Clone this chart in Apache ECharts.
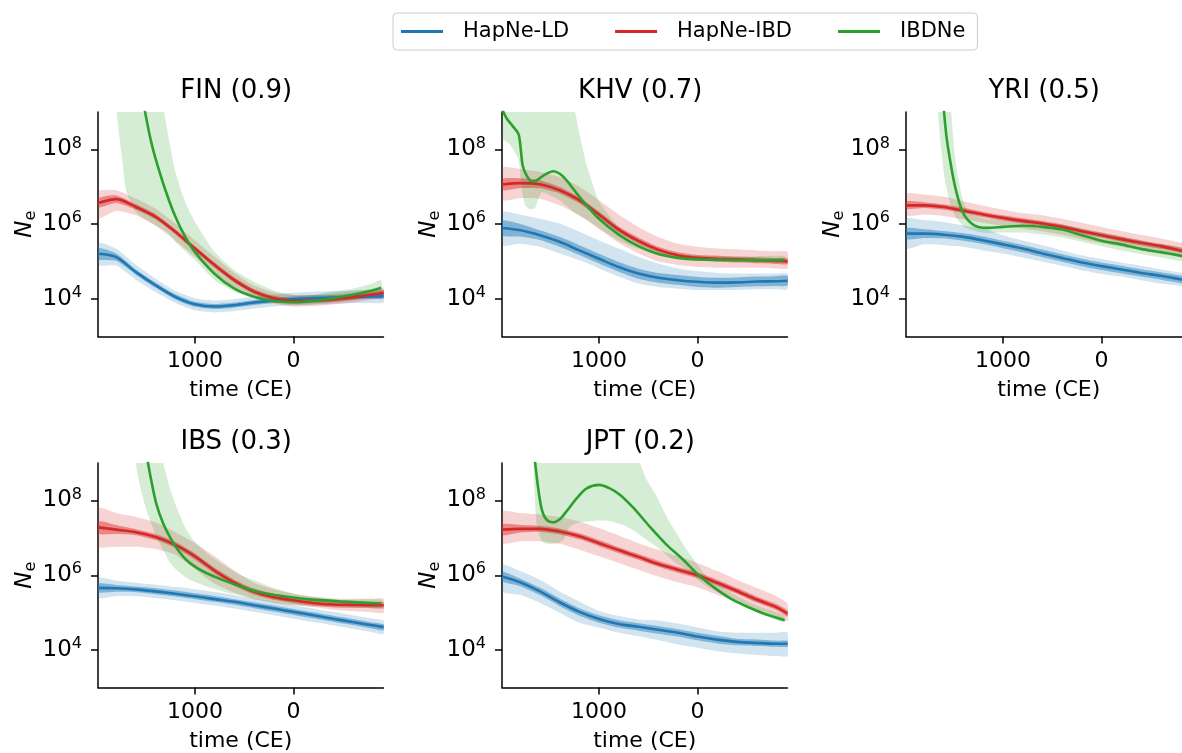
<!DOCTYPE html>
<html>
<head>
<meta charset="utf-8">
<title>Ne trajectories</title>
<script src="https://cdn.jsdelivr.net/npm/echarts@6/dist/echarts.min.js"></script>
<style>
  html, body { margin: 0; padding: 0; background: #ffffff; }
  #chart { width: 1182px; height: 753px; }
</style>
</head>
<body>
<div id="chart"></div>
<script>
// ---- time grid (years CE) shared by the HapNe estimates ----
const years = [1985, 1800, 1600, 1400, 1200, 1000, 800, 600, 400, 200, 0, -200, -400, -600, -800, -914];
const xTicks = [1000, 0];
const yTicks = [1e4, 1e6, 1e8];

// ---- FIN ----
const finLd   = [1.62e5, 1.32e5, 5.25e4, 2.34e4, 1.15e4, 7.24e3, 6.31e3, 6.92e3, 8.13e3, 9.12e3, 1.0e4, 1.07e4, 1.1e4, 1.15e4, 1.17e4, 1.2e4];
const finLdLo = [8.1e4, 7.9e4, 3.3e4, 1.55e4, 7.9e3, 5.0e3, 4.4e3, 4.8e3, 5.6e3, 6.3e3, 6.8e3, 7.2e3, 7.4e3, 7.8e3, 7.9e3, 8.1e3];
const finLdHi = [3.2e5, 2.2e5, 8.3e4, 3.5e4, 1.66e4, 1.05e4, 9.1e3, 1.0e4, 1.17e4, 1.32e4, 1.48e4, 1.58e4, 1.62e4, 1.7e4, 1.74e4, 1.78e4];
const finLdQ1 = [1.15e5, 1.05e5, 4.5e4, 2.0e4, 9.8e3, 6.2e3, 5.4e3, 5.9e3, 6.9e3, 7.8e3, 8.5e3, 9.1e3, 9.3e3, 9.8e3, 1.0e4, 1.02e4];
const finLdQ3 = [2.3e5, 1.66e5, 6.2e4, 2.75e4, 1.35e4, 8.5e3, 7.4e3, 8.1e3, 9.5e3, 1.07e4, 1.17e4, 1.26e4, 1.29e4, 1.35e4, 1.38e4, 1.41e4];
const finIbd   = [3.7e6, 4.7e6, 2.9e6, 1.58e6, 6.3e5, 2.24e5, 8.1e4, 3.2e4, 1.58e4, 1.05e4, 8.9e3, 9.1e3, 9.8e3, 1.12e4, 1.32e4, 1.48e4];
const finIbdLo = [1.41e6, 2.3e6, 1.74e6, 9.1e5, 3.7e5, 1.35e5, 4.8e4, 2.0e4, 1.1e4, 7.6e3, 6.3e3, 6.5e3, 7.2e3, 8.1e3, 9.8e3, 1.1e4];
const finIbdHi = [7.6e6, 8.1e6, 4.8e6, 2.6e6, 1.05e6, 3.7e5, 1.35e5, 5.0e4, 2.3e4, 1.51e4, 1.29e4, 1.29e4, 1.41e4, 1.62e4, 1.86e4, 2.0e4];
const finIbdQ1 = [2.8e6, 3.7e6, 2.45e6, 1.35e6, 5.4e5, 1.9e5, 6.9e4, 2.75e4, 1.35e4, 8.9e3, 7.6e3, 7.8e3, 8.3e3, 9.5e3, 1.12e4, 1.26e4];
const finIbdQ3 = [4.9e6, 5.9e6, 3.4e6, 1.86e6, 7.4e5, 2.6e5, 9.5e4, 3.8e4, 1.86e4, 1.23e4, 1.05e4, 1.07e4, 1.15e4, 1.32e4, 1.55e4, 1.74e4];
const finNeYears = [1510, 1480, 1450, 1400, 1300, 1200, 1100, 1000, 800, 600, 400, 200, 0, -200, -400, -600, -800, -890];
const finNe      = [1.1e9, 4.3e8, 1.8e8, 5.6e7, 8.1e6, 1.6e6, 4.6e5, 1.8e5, 4.7e4, 1.9e4, 1.15e4, 8.9e3, 8.2e3, 8.9e3, 1.05e4, 1.3e4, 1.7e4, 2.0e4];
const finNeBandYears = [1795, 1740, 1700, 1600, 1400, 1315, 1260, 1200, 1100, 1000, 800, 600, 400, 200, 0, -200, -400, -600, -800, -890];
const finNeLo = [1.0e9, 5.6e7, 8.1e6, 2.1e6, 9.3e5, 6.9e5, 5.3e5, 3.4e5, 1.9e5, 1.1e5, 3.2e4, 1.6e4, 1.05e4, 7.9e3, 6.9e3, 7.2e3, 8.1e3, 9.3e3, 1.2e4, 1.4e4];
const finNeHi = [1e10, 1e10, 1e10, 1e10, 1e10, 1.0e9, 1.6e8, 2.5e7, 4.0e6, 1.15e6, 1.8e5, 5.9e4, 2.9e4, 1.7e4, 1.3e4, 1.3e4, 1.6e4, 1.9e4, 2.6e4, 3.2e4];

// ---- KHV ----
const khvLd   = [7.9e5, 6.9e5, 5.1e5, 3.4e5, 2.0e5, 1.2e5, 7.2e4, 4.8e4, 3.7e4, 3.2e4, 2.9e4, 2.75e4, 2.8e4, 2.95e4, 3.0e4, 3.1e4];
const khvLdLo = [2.75e5, 3.0e5, 2.5e5, 1.66e5, 1.1e5, 6.6e4, 4.0e4, 2.6e4, 2.1e4, 1.9e4, 1.74e4, 1.74e4, 1.74e4, 1.82e4, 1.82e4, 1.82e4];
const khvLdHi = [2.1e6, 1.8e6, 1.41e6, 1.05e6, 6.3e5, 3.7e5, 2.24e5, 1.35e5, 8.9e4, 6.6e4, 5.6e4, 5.0e4, 4.8e4, 4.8e4, 4.8e4, 4.8e4];
const khvLdQ1 = [5.0e5, 4.7e5, 3.8e5, 2.5e5, 1.5e5, 8.9e4, 5.4e4, 3.5e4, 2.75e4, 2.4e4, 2.1e4, 2.0e4, 2.1e4, 2.2e4, 2.24e4, 2.3e4];
const khvLdQ3 = [1.26e6, 1.02e6, 6.9e5, 4.6e5, 2.75e5, 1.62e5, 9.8e4, 6.5e4, 5.0e4, 4.4e4, 3.9e4, 3.7e4, 3.8e4, 4.0e4, 4.1e4, 4.2e4];
const khvIbd   = [1.15e7, 1.26e7, 1.17e7, 8.1e6, 4.4e6, 1.82e6, 7.2e5, 3.6e5, 2.1e5, 1.48e5, 1.26e5, 1.2e5, 1.15e5, 1.1e5, 1.05e5, 1.02e5];
const khvIbdLo = [4.4e6, 5.0e6, 4.8e6, 3.2e6, 1.74e6, 7.6e5, 3.2e5, 1.66e5, 1.02e5, 8.1e4, 7.2e4, 6.9e4, 6.9e4, 6.9e4, 6.6e4, 6.6e4];
const khvIbdHi = [3.2e7, 3.0e7, 2.5e7, 1.82e7, 1.0e7, 4.4e6, 1.82e6, 8.5e5, 4.6e5, 3.0e5, 2.5e5, 2.24e5, 2.14e5, 2.0e5, 1.9e5, 1.82e5];
const khvIbdQ1 = [8.1e6, 9.3e6, 9.1e6, 6.6e6, 3.6e6, 1.51e6, 6.0e5, 3.0e5, 1.74e5, 1.23e5, 1.05e5, 1.0e5, 9.5e4, 9.1e4, 8.7e4, 8.5e4];
const khvIbdQ3 = [1.62e7, 1.7e7, 1.51e7, 1.0e7, 5.2e6, 2.2e6, 8.7e5, 4.4e5, 2.5e5, 1.78e5, 1.51e5, 1.45e5, 1.38e5, 1.32e5, 1.26e5, 1.23e5];
const khvNeYears = [1985, 1935, 1870, 1818, 1795, 1775, 1735, 1680, 1630, 1565, 1465, 1395, 1330, 1225, 1125, 1000, 800, 600, 400, 200, 0, -400, -885];
const khvNe      = [1.2e9, 6.6e8, 4.0e8, 2.6e8, 1.05e8, 3.7e7, 2.0e7, 1.4e7, 1.5e7, 2.0e7, 2.6e7, 2.2e7, 1.5e7, 6.6e6, 3.2e6, 1.4e6, 5.3e5, 2.6e5, 1.6e5, 1.26e5, 1.15e5, 1.1e5, 1.1e5];
const khvNeBandYears = [1985, 1900, 1820, 1785, 1750, 1700, 1650, 1615, 1580, 1495, 1400, 1245, 1195, 1125, 1055, 1000, 800, 600, 400, 200, 0, -400, -885];
const khvNeLo = [2.1e8, 1.3e8, 5.6e7, 8.9e6, 3.2e6, 2.5e6, 2.7e6, 4.8e6, 7.2e6, 5.9e6, 4.4e6, 2.0e6, 1.7e6, 1.3e6, 9.8e5, 7.6e5, 3.7e5, 2.2e5, 1.55e5, 1.26e5, 1.1e5, 1.0e5, 9.3e4];
const khvNeHi = [1e10, 1e10, 1e10, 1e10, 1e10, 1e10, 1e10, 1e10, 1e10, 1e10, 1e10, 1.0e9, 2.3e8, 3.7e7, 1.0e7, 4.0e6, 8.5e5, 3.7e5, 2.0e5, 1.6e5, 1.45e5, 1.35e5, 1.4e5];

// ---- YRI ----
const yriLd   = [5.6e5, 5.6e5, 5.25e5, 4.6e5, 3.7e5, 2.9e5, 2.24e5, 1.66e5, 1.26e5, 9.5e4, 7.6e4, 6.2e4, 5.0e4, 4.2e4, 3.4e4, 3.0e4];
const yriLdLo = [2.24e5, 2.9e5, 2.75e5, 2.5e5, 2.0e5, 1.66e5, 1.29e5, 1.0e5, 7.8e4, 5.9e4, 4.7e4, 4.0e4, 3.2e4, 2.6e4, 2.24e4, 1.9e4];
const yriLdHi = [1.41e6, 1.29e6, 1.15e6, 9.3e5, 7.6e5, 5.1e5, 3.7e5, 2.75e5, 2.0e5, 1.48e5, 1.17e5, 9.5e4, 7.8e4, 6.3e4, 5.1e4, 4.6e4];
const yriLdQ1 = [4.0e5, 4.3e5, 4.2e5, 3.6e5, 2.95e5, 2.3e5, 1.78e5, 1.32e5, 1.0e5, 7.6e4, 6.0e4, 4.9e4, 4.0e4, 3.3e4, 2.7e4, 2.4e4];
const yriLdQ3 = [7.9e5, 7.4e5, 6.6e5, 5.75e5, 4.7e5, 3.6e5, 2.8e5, 2.1e5, 1.58e5, 1.2e5, 9.5e4, 7.8e4, 6.3e4, 5.25e4, 4.3e4, 3.8e4];
const yriIbd   = [3.2e6, 3.2e6, 2.9e6, 2.3e6, 1.82e6, 1.48e6, 1.23e6, 1.05e6, 8.5e5, 6.5e5, 5.1e5, 4.0e5, 3.2e5, 2.6e5, 2.0e5, 1.74e5];
const yriIbdLo = [1.74e6, 1.82e6, 1.66e6, 1.35e6, 1.1e6, 9.1e5, 7.6e5, 6.5e5, 5.25e5, 4.0e5, 3.1e5, 2.5e5, 2.0e5, 1.62e5, 1.32e5, 1.17e5];
const yriIbdHi = [6.6e6, 6.2e6, 5.4e6, 4.1e6, 3.1e6, 2.45e6, 2.0e6, 1.74e6, 1.41e6, 1.1e6, 8.5e5, 6.6e5, 5.25e5, 4.2e5, 3.2e5, 2.75e5];
const yriIbdQ1 = [2.6e6, 2.7e6, 2.45e6, 2.0e6, 1.55e6, 1.26e6, 1.05e6, 8.9e5, 7.2e5, 5.5e5, 4.4e5, 3.4e5, 2.7e5, 2.2e5, 1.74e5, 1.48e5];
const yriIbdQ3 = [4.1e6, 3.9e6, 3.4e6, 2.75e6, 2.14e6, 1.74e6, 1.45e6, 1.23e6, 1.0e6, 7.6e5, 6.0e5, 4.7e5, 3.7e5, 3.0e5, 2.4e5, 2.0e5];
const yriNeYears = [1600, 1575, 1540, 1490, 1440, 1390, 1320, 1250, 1150, 1000, 800, 600, 400, 200, 0, -200, -400, -600, -800, -890];
const yriNe      = [1.1e9, 2.3e8, 5.6e7, 1.1e7, 3.5e6, 1.7e6, 1.05e6, 8.5e5, 8.0e5, 8.5e5, 9.1e5, 8.5e5, 7.2e5, 5.1e5, 3.6e5, 2.9e5, 2.2e5, 1.8e5, 1.45e5, 1.3e5];
const yriNeBandYears = [1660, 1627, 1593, 1542, 1525, 1485, 1441, 1390, 1322, 1186, 1000, 800, 600, 400, 200, 0, -200, -400, -600, -800, -890];
const yriNeLo = [1.0e9, 1.05e8, 1.66e7, 4.0e6, 3.0e6, 1.6e6, 1.15e6, 8.5e5, 7.1e5, 5.9e5, 6.0e5, 6.0e5, 5.3e5, 4.4e5, 3.4e5, 2.6e5, 2.0e5, 1.6e5, 1.3e5, 1.05e5, 9.5e4];
const yriNeHi = [1e10, 1e10, 1e10, 1e10, 1.0e9, 5.6e7, 1.1e7, 3.2e6, 1.9e6, 1.4e6, 1.26e6, 1.26e6, 1.15e6, 9.8e5, 7.6e5, 5.9e5, 4.6e5, 3.7e5, 2.9e5, 2.4e5, 2.1e5];

// ---- IBS ----
const ibsLd   = [4.6e5, 4.5e5, 4.2e5, 3.7e5, 3.2e5, 2.75e5, 2.3e5, 1.95e5, 1.58e5, 1.29e5, 1.05e5, 8.5e4, 6.9e4, 5.6e4, 4.6e4, 4.1e4];
const ibsLdLo = [2.5e5, 2.8e5, 2.75e5, 2.45e5, 2.14e5, 1.82e5, 1.55e5, 1.29e5, 1.05e5, 8.5e4, 6.9e4, 5.6e4, 4.6e4, 3.7e4, 3.0e4, 2.7e4];
const ibsLdHi = [8.5e5, 7.1e5, 6.3e5, 5.6e5, 4.9e5, 4.2e5, 3.55e5, 2.95e5, 2.4e5, 1.95e5, 1.58e5, 1.29e5, 1.05e5, 8.5e4, 6.9e4, 6.2e4];
const ibsLdQ1 = [3.5e5, 3.6e5, 3.5e5, 3.1e5, 2.7e5, 2.3e5, 1.95e5, 1.62e5, 1.32e5, 1.07e5, 8.7e4, 7.1e4, 5.75e4, 4.7e4, 3.8e4, 3.4e4];
const ibsLdQ3 = [6.0e5, 5.5e5, 5.0e5, 4.5e5, 3.9e5, 3.3e5, 2.8e5, 2.3e5, 1.9e5, 1.55e5, 1.26e5, 1.02e5, 8.3e4, 6.8e4, 5.5e4, 4.9e4];
const ibsIbd   = [1.9e7, 1.66e7, 1.41e7, 1.05e7, 6.5e6, 3.2e6, 1.32e6, 6.3e5, 3.6e5, 2.6e5, 2.14e5, 1.82e5, 1.66e5, 1.62e5, 1.58e5, 1.58e5];
const ibsIbdLo = [5.9e6, 5.75e6, 5.75e6, 5.0e6, 3.55e6, 1.48e6, 6.0e5, 3.4e5, 2.34e5, 1.82e5, 1.58e5, 1.41e5, 1.2e5, 1.1e5, 1.02e5, 1.0e5];
const ibsIbdHi = [6.3e7, 4.6e7, 3.6e7, 2.6e7, 1.41e7, 7.2e6, 3.2e6, 1.32e6, 6.3e5, 4.2e5, 3.2e5, 2.7e5, 2.4e5, 2.34e5, 2.34e5, 2.34e5];
const ibsIbdQ1 = [1.29e7, 1.26e7, 1.17e7, 8.7e6, 5.4e6, 2.6e6, 1.1e6, 5.25e5, 3.0e5, 2.2e5, 1.78e5, 1.51e5, 1.38e5, 1.35e5, 1.32e5, 1.32e5];
const ibsIbdQ3 = [2.8e7, 2.2e7, 1.7e7, 1.26e7, 7.8e6, 3.8e6, 1.58e6, 7.6e5, 4.4e5, 3.2e5, 2.6e5, 2.2e5, 2.0e5, 1.95e5, 1.91e5, 1.91e5];
const ibsNeYears = [1480, 1445, 1395, 1325, 1240, 1175, 1090, 985, 885, 715, 545, 375, 205, 35, -130, -470, -890];
const ibsNe      = [1.1e9, 3.5e8, 8.5e7, 2.5e7, 8.9e6, 4.8e6, 2.6e6, 1.6e6, 1.15e6, 7.4e5, 5.1e5, 3.7e5, 3.0e5, 2.6e5, 2.3e5, 2.0e5, 1.75e5];
const ibsNeBandYears = [1600, 1565, 1495, 1395, 1325, 1290, 1260, 1190, 1105, 1055, 1020, 885, 715, 545, 375, 205, 35, -130, -470, -890];
const ibsNeLo = [1.0e9, 2.9e8, 5.6e7, 1.1e7, 4.8e6, 3.2e6, 2.3e6, 1.4e6, 9.3e5, 7.6e5, 6.9e5, 5.1e5, 3.7e5, 2.9e5, 2.2e5, 1.9e5, 1.66e5, 1.55e5, 1.45e5, 1.35e5];
const ibsNeHi = [1e10, 1e10, 1e10, 1e10, 1.0e9, 4.8e8, 2.3e8, 6.9e7, 2.0e7, 1.2e7, 8.9e6, 4.0e6, 1.9e6, 1.05e6, 6.9e5, 4.6e5, 3.4e5, 2.8e5, 2.2e5, 2.2e5];

// ---- JPT ----
const jptLd   = [9.3e5, 6.5e5, 3.7e5, 1.9e5, 1.05e5, 6.8e4, 5.0e4, 4.2e4, 3.5e4, 2.9e4, 2.3e4, 1.9e4, 1.66e4, 1.55e4, 1.48e4, 1.48e4];
const jptLdLo = [3.7e5, 3.0e5, 1.82e5, 1.0e5, 5.4e4, 4.0e4, 2.9e4, 2.34e4, 1.86e4, 1.41e4, 1.15e4, 9.3e3, 8.1e3, 7.4e3, 6.9e3, 6.9e3];
const jptLdHi = [1.91e6, 1.29e6, 7.6e5, 3.7e5, 2.0e5, 1.1e5, 8.1e4, 6.6e4, 6.2e4, 5.1e4, 4.0e4, 3.2e4, 2.9e4, 2.9e4, 2.9e4, 2.9e4];
const jptLdQ1 = [6.9e5, 5.1e5, 2.95e5, 1.51e5, 8.3e4, 5.4e4, 4.0e4, 3.3e4, 2.75e4, 2.3e4, 1.82e4, 1.51e4, 1.35e4, 1.29e4, 1.23e4, 1.23e4];
const jptLdQ3 = [1.26e6, 8.1e5, 4.7e5, 2.4e5, 1.32e5, 8.5e4, 6.3e4, 5.25e4, 4.4e4, 3.6e4, 2.9e4, 2.4e4, 2.0e4, 1.91e4, 1.78e4, 1.78e4];
const jptIbd   = [1.66e7, 1.74e7, 1.74e7, 1.48e7, 1.1e7, 7.2e6, 4.7e6, 3.1e6, 2.0e6, 1.41e6, 1.0e6, 6.3e5, 3.8e5, 2.24e5, 1.41e5, 9.5e4];
const jptIbdLo = [7.2e6, 8.1e6, 8.1e6, 6.9e6, 4.8e6, 3.2e6, 2.14e6, 1.41e6, 9.3e5, 6.5e5, 4.8e5, 3.0e5, 1.91e5, 1.2e5, 8.1e4, 5.9e4];
const jptIbdHi = [5.1e7, 4.6e7, 4.2e7, 3.6e7, 2.75e7, 1.82e7, 1.15e7, 7.2e6, 4.8e6, 3.2e6, 2.14e6, 1.29e6, 7.6e5, 4.6e5, 2.75e5, 1.74e5];
const jptIbdQ1 = [1.17e7, 1.38e7, 1.45e7, 1.23e7, 9.1e6, 6.0e6, 3.9e6, 2.6e6, 1.7e6, 1.17e6, 8.3e5, 5.25e5, 3.2e5, 1.86e5, 1.17e5, 7.9e4];
const jptIbdQ3 = [2.3e7, 2.2e7, 2.1e7, 1.78e7, 1.32e7, 8.7e6, 5.6e6, 3.7e6, 2.45e6, 1.7e6, 1.2e6, 7.6e5, 4.6e5, 2.7e5, 1.7e5, 1.15e5];
const jptNeYears = [1650, 1615, 1580, 1530, 1465, 1395, 1330, 1225, 1125, 1000, 890, 785, 650, 485, 315, 145, 45, -25, -195, -360, -530, -700, -885];
const jptNe      = [1.1e9, 1.9e8, 5.6e7, 3.0e7, 2.6e7, 3.2e7, 5.1e7, 1.15e8, 2.1e8, 2.6e8, 2.1e8, 1.4e8, 6.3e7, 2.0e7, 6.6e6, 2.6e6, 1.4e6, 9.3e5, 4.2e5, 2.2e5, 1.35e5, 8.9e4, 6.3e4];
const jptNeBandYears = [1665, 1655, 1630, 1580, 1530, 1430, 1360, 1295, 1195, 1000, 890, 720, 585, 515, 415, 315, 215, 110, 0, -90, -260, -430, -600, -765, -885];
const jptNeLo = [1.0e9, 1.6e8, 2.0e7, 8.1e6, 6.9e6, 7.2e6, 8.9e6, 2.0e7, 2.6e7, 2.9e7, 2.8e7, 2.0e7, 1.2e7, 8.9e6, 5.8e6, 3.5e6, 2.1e6, 1.4e6, 7.6e5, 5.1e5, 3.0e5, 1.75e5, 1.05e5, 6.9e4, 5.6e4];
const jptNeHi = [1e10, 1e10, 1e10, 1e10, 1e10, 1e10, 1e10, 1e10, 1e10, 1e10, 1e10, 1e10, 1.0e9, 3.5e8, 1.3e8, 3.7e7, 1.35e7, 4.8e6, 1.9e6, 9.3e5, 4.6e5, 2.5e5, 1.55e5, 1.1e5, 8.1e4];

// ---- panel assembly ----
const panels = [
  { title: 'FIN (0.9)', ld: [finLd, finLdLo, finLdHi, finLdQ1, finLdQ3], ibd: [finIbd, finIbdLo, finIbdHi, finIbdQ1, finIbdQ3],
    ne: [finNeYears, finNe, finNeBandYears, finNeLo, finNeHi] },
  { title: 'KHV (0.7)', ld: [khvLd, khvLdLo, khvLdHi, khvLdQ1, khvLdQ3], ibd: [khvIbd, khvIbdLo, khvIbdHi, khvIbdQ1, khvIbdQ3],
    ne: [khvNeYears, khvNe, khvNeBandYears, khvNeLo, khvNeHi] },
  { title: 'YRI (0.5)', ld: [yriLd, yriLdLo, yriLdHi, yriLdQ1, yriLdQ3], ibd: [yriIbd, yriIbdLo, yriIbdHi, yriIbdQ1, yriIbdQ3],
    ne: [yriNeYears, yriNe, yriNeBandYears, yriNeLo, yriNeHi] },
  { title: 'IBS (0.3)', ld: [ibsLd, ibsLdLo, ibsLdHi, ibsLdQ1, ibsLdQ3], ibd: [ibsIbd, ibsIbdLo, ibsIbdHi, ibsIbdQ1, ibsIbdQ3],
    ne: [ibsNeYears, ibsNe, ibsNeBandYears, ibsNeLo, ibsNeHi] },
  { title: 'JPT (0.2)', ld: [jptLd, jptLdLo, jptLdHi, jptLdQ1, jptLdQ3], ibd: [jptIbd, jptIbdLo, jptIbdHi, jptIbdQ1, jptIbdQ3],
    ne: [jptNeYears, jptNe, jptNeBandYears, jptNeLo, jptNeHi] }
];

// ---- layout and style ----
const FONT = 'DejaVu Sans';
const COLORS = { ld: '#1f77b4', ibd: '#d62728', ne: '#2ca02c' };
const boxes = [
  { left: 98, top: 112 }, { left: 502, top: 112 }, { left: 906, top: 112 },
  { left: 98, top: 463 }, { left: 502, top: 463 }
];
const PLOT_W = 285.5, PLOT_H = 224.5;
const TICK_FS = 22, POW_FS = 23, SUP_FS = 16, LEGEND_FS = 21, TITLE_FS = 26;

function powLabel(v) {
  const e = Math.round(Math.log10(v));
  return '{b|10}{s|' + e + '}';
}

// filled band between two value arrays, drawn as one polygon through the axis scales
function band(gi, xs, lo, hi, color, opacity) {
  const rows = xs.map((x, i) => [x, lo[i], hi[i]]);
  return {
    type: 'custom', xAxisIndex: gi, yAxisIndex: gi, clip: true, silent: true,
    data: rows, encode: { x: 0, y: [1, 2] },
    renderItem(params, api) {
      if (params.dataIndex !== 0) return null;
      const upper = rows.map(r => api.coord([r[0], r[2]]));
      const lower = rows.map(r => api.coord([r[0], r[1]])).reverse();
      return {
        type: 'polygon',
        shape: { points: upper.concat(lower), smooth: 0.2 },
        style: { fill: color, opacity: opacity, stroke: null }
      };
    }
  };
}

function curve(gi, name, xs, ys, color, width) {
  return {
    type: 'line', name, xAxisIndex: gi, yAxisIndex: gi,
    data: xs.map((x, i) => [x, ys[i]]),
    symbol: 'none', showSymbol: false, smooth: 0.3, clip: true, silent: true,
    lineStyle: { color, width }, itemStyle: { color },
    emphasis: { disabled: true }
  };
}

const grids = [], xAxes = [], yAxes = [], titles = [], series = [];
panels.forEach((p, gi) => {
  const b = boxes[gi];
  grids.push({ left: b.left, top: b.top, width: PLOT_W, height: PLOT_H, containLabel: false, outerBoundsMode: 'none' });
  titles.push({
    text: p.title, left: b.left + PLOT_W / 2 - 4.5, top: b.top - 34, textAlign: 'center', padding: 0,
    textStyle: { fontFamily: FONT, fontSize: TITLE_FS, fontWeight: 'normal', color: '#000' }
  });
  xAxes.push({
    gridIndex: gi, type: 'value', inverse: true, min: -914, max: 1985,
    axisLine: { show: true, onZero: false, lineStyle: { color: '#000', width: 1.5 } },
    axisTick: { show: true, length: 7, customValues: xTicks, lineStyle: { color: '#000', width: 1.5 } },
    axisLabel: { customValues: xTicks, margin: 14, fontFamily: FONT, fontSize: TICK_FS, color: '#000',
                 formatter: v => String(v) },
    splitLine: { show: false },
    name: 'time (CE)', nameLocation: 'middle', nameGap: 43,
    nameTextStyle: { fontFamily: FONT, fontSize: TICK_FS, color: '#000' }
  });
  yAxes.push({
    gridIndex: gi, type: 'log', logBase: 10, min: 1e3, max: 1e9,
    axisLine: { show: true, onZero: false, lineStyle: { color: '#000', width: 1.5 } },
    axisTick: { show: true, length: 7, customValues: yTicks, lineStyle: { color: '#000', width: 1.5 } },
    axisLabel: {
      customValues: yTicks, margin: 16, formatter: powLabel, color: '#000',
      rich: {
        b: { fontFamily: FONT, fontSize: POW_FS, color: '#000' },
        s: { fontFamily: FONT, fontSize: SUP_FS, color: '#000', padding: [0, 0, 12, 0] }
      }
    },
    minorTick: { show: false }, splitLine: { show: false },
    name: '{n|N}{e|e}', nameLocation: 'middle', nameRotate: 90, nameGap: 58,
    nameTextStyle: {
      rich: {
        n: { fontFamily: FONT, fontStyle: 'italic', fontSize: POW_FS, color: '#000' },
        e: { fontFamily: FONT, fontSize: SUP_FS, color: '#000', padding: [12, 0, 0, 0] }
      }
    }
  });

  const [ldMid, ldLo, ldHi, ldQ1, ldQ3] = p.ld;
  const [ibdMid, ibdLo, ibdHi, ibdQ1, ibdQ3] = p.ibd;
  const [neYears, neMid, neBandYears, neLo, neHi] = p.ne;
  series.push(band(gi, years, ldLo, ldHi, COLORS.ld, 0.2));
  series.push(band(gi, years, ldQ1, ldQ3, COLORS.ld, 0.45));
  series.push(curve(gi, 'HapNe-LD', years, ldMid, COLORS.ld, 2.6));
  series.push(band(gi, years, ibdLo, ibdHi, COLORS.ibd, 0.2));
  series.push(band(gi, years, ibdQ1, ibdQ3, COLORS.ibd, 0.45));
  series.push(curve(gi, 'HapNe-IBD', years, ibdMid, COLORS.ibd, 2.6));
  series.push(band(gi, neBandYears, neLo, neHi, COLORS.ne, 0.2));
  series.push(curve(gi, 'IBDNe', neYears, neMid, COLORS.ne, 2.6));
});

const chart = echarts.init(document.getElementById('chart'), null, { renderer: 'canvas' });
chart.setOption({
  backgroundColor: '#ffffff',
  animation: false,
  textStyle: { fontFamily: FONT },
  title: titles,
  legend: {
    data: ['HapNe-LD', 'HapNe-IBD', 'IBDNe'],
    left: 393, top: 13, orient: 'horizontal',
    icon: 'rect', itemWidth: 42, itemHeight: 3, itemGap: 46,
    padding: [8, 12, 8, 8],
    borderColor: '#cccccc', borderWidth: 1, borderRadius: 4,
    textStyle: { fontFamily: FONT, fontSize: LEGEND_FS, color: '#000', padding: [0, 0, 0, 15] },
    selectedMode: false
  },
  grid: grids,
  xAxis: xAxes,
  yAxis: yAxes,
  series: series
});
</script>
</body>
</html>
